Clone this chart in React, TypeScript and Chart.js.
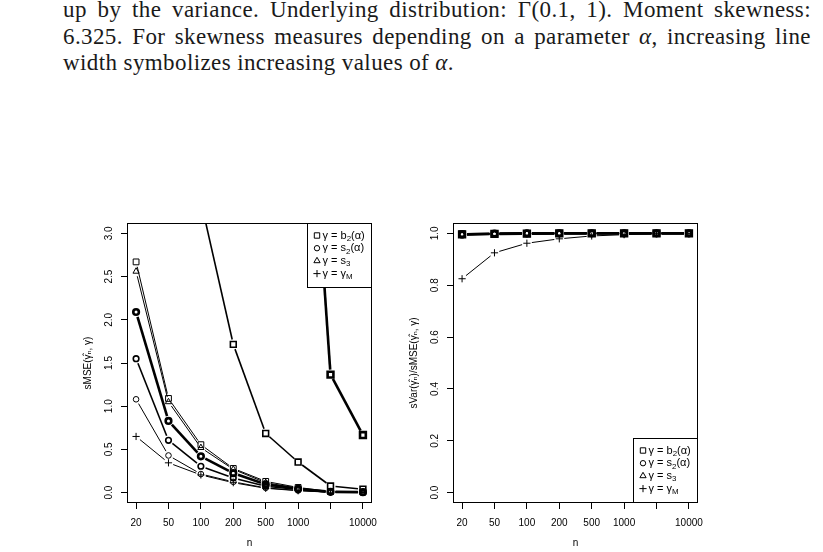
import React, { useEffect, useRef } from "react";
import { Chart, registerables } from "chart.js";

Chart.register(...registerables);

// ---------- data ----------
const nTickLabels = ["20", "50", "100", "200", "500", "1000", "", "10000"];
const nIndex = [1, 2, 3, 4, 5, 6, 7, 8];

const mseYTicks = [0, 0.5, 1, 1.5, 2, 2.5, 3];
const ratioYTicks = [0, 0.2, 0.4, 0.6, 0.8, 1];

// left panel: sMSE
const mseB2A1 = [2.67, 1.09, 0.555, 0.28, 0.13, 0.06, 0.012, 0.006];
const mseB2A2 = [12.5, 6.8, 3.37, 1.715, 0.685, 0.354, 0.077, 0.04];
const mseB2A3 = [45, 30, 20, 14, 9.5, 6.8, 1.366, 0.666];
const mseS2A1 = [1.08, 0.43, 0.215, 0.125, 0.055, 0.025, 0.005, 0.003];
const mseS2A2 = [1.55, 0.605, 0.305, 0.17, 0.075, 0.035, 0.007, 0.004];
const mseS2A3 = [2.09, 0.83, 0.42, 0.225, 0.095, 0.045, 0.009, 0.005];
const mseS3 = [2.56, 1.05, 0.52, 0.27, 0.115, 0.05, 0.01, 0.005];
const mseGM = [0.65, 0.345, 0.205, 0.115, 0.05, 0.022, 0.004, 0.002];

// right panel: sVar / sMSE
const ratioB2A1 = [0.998, 0.999, 1.0, 1.0, 1.0, 1.0, 1.0, 1.0];
const ratioB2A2 = [0.997, 0.999, 0.999, 1.0, 1.0, 1.0, 1.0, 1.0];
const ratioB2A3 = [0.996, 0.998, 0.999, 1.0, 1.0, 1.0, 1.0, 1.0];
const ratioS2A1 = [0.994, 0.998, 0.999, 1.0, 1.0, 1.0, 1.0, 1.0];
const ratioS2A2 = [0.995, 0.998, 0.999, 1.0, 1.0, 1.0, 1.0, 1.0];
const ratioS2A3 = [0.996, 0.999, 1.0, 1.0, 1.0, 1.0, 1.0, 1.0];
const ratioS3 = [0.997, 0.999, 1.0, 1.0, 1.0, 1.0, 1.0, 1.0];
const ratioGM = [0.825, 0.925, 0.962, 0.979, 0.99, 0.995, 0.999, 0.999];

const FONT = '"Liberation Sans", Arial, "DejaVu Sans", sans-serif';

type Part = { t: string; sub?: boolean };
const legendTexts: Part[][] = [
  [{ t: "\u03B3 = b" }, { t: "2", sub: true }, { t: "(\u03B1)" }],
  [{ t: "\u03B3 = s" }, { t: "2", sub: true }, { t: "(\u03B1)" }],
  [{ t: "\u03B3 = s" }, { t: "3", sub: true }],
  [{ t: "\u03B3 = \u03B3" }, { t: "M", sub: true }],
];
const legendSymbols = ["rect", "circle", "triangle", "cross"];

type Series = { values: number[]; style: string; width: number };

const THIN = 1;
const MED = 1.6;
const THICK = 2.6;
const GAP = 5; // R type = "b": line segments stop short of the symbols

function radiusFor(style: string) {
  if (style === "rect") return 4.1;
  if (style === "circle") return 2.8;
  if (style === "triangle") return 3.6;
  return 3.6;
}

function makeDatasets(series: Series[]) {
  return series.map((s) => ({
    data: s.values.map((v, i) => ({ x: nIndex[i], y: v })),
    borderColor: "#000",
    borderWidth: s.width,
    lineW: s.width,
    pointStyle: s.style,
    pointRadius: radiusFor(s.style),
    pointBorderWidth: s.width,
    pointBackgroundColor: "rgba(0,0,0,0)",
    pointBorderColor: "#000",
    tension: 0,
    fill: false,
    showLine: false,
  }));
}

const leftSeries: Series[] = [
  { values: mseGM, style: "cross", width: THIN },
  { values: mseS3, style: "triangle", width: THIN },
  { values: mseS2A1, style: "circle", width: THIN },
  { values: mseS2A2, style: "circle", width: MED },
  { values: mseS2A3, style: "circle", width: THICK },
  { values: mseB2A1, style: "rect", width: THIN },
  { values: mseB2A2, style: "rect", width: MED },
  { values: mseB2A3, style: "rect", width: THICK },
];

const rightSeries: Series[] = [
  { values: ratioGM, style: "cross", width: THIN },
  { values: ratioS3, style: "triangle", width: THIN },
  { values: ratioS2A1, style: "circle", width: THIN },
  { values: ratioS2A2, style: "circle", width: MED },
  { values: ratioS2A3, style: "circle", width: THICK },
  { values: ratioB2A1, style: "rect", width: THIN },
  { values: ratioB2A2, style: "rect", width: MED },
  { values: ratioB2A3, style: "rect", width: THICK },
];

// line segments between the points placed by Chart.js (positions from its scales)
const gapLinePlugin = {
  id: "rGapLines",
  beforeDatasetsDraw(chart: any) {
    const ctx: CanvasRenderingContext2D = chart.ctx;
    const a = chart.chartArea;
    ctx.save();
    ctx.beginPath();
    ctx.rect(a.left, a.top, a.right - a.left, a.bottom - a.top);
    ctx.clip();
    ctx.strokeStyle = "#000";
    ctx.lineCap = "butt";
    chart.data.datasets.forEach((ds: any, i: number) => {
      const pts = chart.getDatasetMeta(i).data;
      ctx.lineWidth = ds.lineW;
      for (let k = 0; k < pts.length - 1; k++) {
        const p = pts[k];
        const q = pts[k + 1];
        const dx = q.x - p.x;
        const dy = q.y - p.y;
        const L = Math.hypot(dx, dy);
        if (L <= 2 * GAP) continue;
        const ux = dx / L;
        const uy = dy / L;
        ctx.beginPath();
        ctx.moveTo(p.x + ux * GAP, p.y + uy * GAP);
        ctx.lineTo(q.x - ux * GAP, q.y - uy * GAP);
        ctx.stroke();
      }
    });
    ctx.restore();
  },
};

function drawSym(ctx: CanvasRenderingContext2D, s: string, x: number, y: number) {
  ctx.beginPath();
  if (s === "rect") {
    ctx.rect(x - 2.7, y - 2.7, 5.4, 5.4);
  } else if (s === "circle") {
    ctx.arc(x, y, 2.7, 0, Math.PI * 2);
  } else if (s === "triangle") {
    const r = 3.6;
    ctx.moveTo(x, y - r);
    ctx.lineTo(x + r * 0.866, y + r * 0.5);
    ctx.lineTo(x - r * 0.866, y + r * 0.5);
    ctx.closePath();
  } else {
    ctx.moveTo(x - 3.6, y);
    ctx.lineTo(x + 3.6, y);
    ctx.moveTo(x, y - 3.6);
    ctx.lineTo(x, y + 3.6);
  }
  ctx.stroke();
}

function framePlugin(corner: "top" | "bottom") {
  return {
    id: "rFrameLegend",
    afterDraw(chart: any) {
      const ctx: CanvasRenderingContext2D = chart.ctx;
      const a = chart.chartArea;
      ctx.save();
      ctx.strokeStyle = "#000";
      ctx.lineWidth = 1;
      ctx.strokeRect(a.left + 0.5, a.top + 0.5, a.right - a.left - 1, a.bottom - a.top - 1);
      const w = 65;
      const h = 65;
      const x0 = a.right - w;
      const y0 = corner === "top" ? a.top : a.bottom - h;
      ctx.fillStyle = "#fff";
      ctx.fillRect(x0, y0, w, h);
      ctx.strokeRect(x0 + 0.5, y0 + 0.5, w - 1, h - 1);
      const fs = 11;
      ctx.fillStyle = "#000";
      ctx.textBaseline = "middle";
      ctx.textAlign = "left";
      legendTexts.forEach((parts, i) => {
        const y = y0 + 12.5 + i * 12.7;
        ctx.lineWidth = 1;
        drawSym(ctx, legendSymbols[i], x0 + 10, y);
        let tx = x0 + 15.5;
        parts.forEach((p) => {
          const size = p.sub ? fs * 0.72 : fs;
          ctx.font = `${size}px ${FONT}`;
          ctx.fillText(p.t, tx, p.sub ? y + fs * 0.3 : y);
          tx += ctx.measureText(p.t).width;
        });
      });
      ctx.restore();
    },
  };
}

type PanelProps = {
  series: Series[];
  yMin: number;
  yMax: number;
  yTicks: number[];
  yTitle: string;
  corner: "top" | "bottom";
  left: number;
  yAxisW: number;
  padRight: number;
  yTitlePad: number;
};

const CW = 330;
const CH = 352;
const CTOP = 200;

function Panel(props: PanelProps) {
  const ref = useRef<HTMLCanvasElement | null>(null);
  useEffect(() => {
    if (!ref.current) return;
    Chart.defaults.font.family = FONT;
    Chart.defaults.color = "#000";
    const zeroPad = (s: any) => {
      s.paddingLeft = 0;
      s.paddingRight = 0;
      s.paddingTop = 0;
      s.paddingBottom = 0;
    };
    const axisGrid = {
      display: true,
      drawOnChartArea: false,
      drawTicks: true,
      tickLength: 6,
      color: "#000",
      lineWidth: 1,
    };
    const chart = new Chart(ref.current, {
      type: "line",
      data: { datasets: makeDatasets(props.series) as any },
      options: {
        animation: false,
        responsive: false,
        events: [],
        layout: { padding: { left: 0, top: 23, right: props.padRight, bottom: 0 } },
        plugins: {
          legend: { display: false },
          tooltip: { enabled: false },
        },
        scales: {
          x: {
            type: "linear",
            min: 0.72,
            max: 8.28,
            afterBuildTicks: (s: any) => {
              s.ticks = nIndex.map((v) => ({ value: v }));
            },
            afterFit: (s: any) => {
              s.height = CH - 303;
              zeroPad(s);
            },
            ticks: {
              autoSkip: false,
              maxRotation: 0,
              minRotation: 0,
              padding: 8,
              font: { size: 10, family: FONT },
              color: "#000",
              callback: (v: any) => {
                const k = nIndex.indexOf(Number(v));
                return k >= 0 ? nTickLabels[k] : "";
              },
            },
            grid: axisGrid,
            border: { display: false },
            title: {
              display: true,
              text: "n",
              color: "#000",
              font: { size: 10, family: FONT },
              padding: { top: 0, bottom: 3 },
            },
          },
          y: {
            type: "linear",
            min: props.yMin,
            max: props.yMax,
            afterBuildTicks: (s: any) => {
              s.ticks = props.yTicks.map((v) => ({ value: v }));
            },
            afterFit: (s: any) => {
              s.width = props.yAxisW;
              zeroPad(s);
            },
            ticks: {
              autoSkip: false,
              minRotation: 90,
              maxRotation: 90,
              crossAlign: "center",
              padding: 5,
              font: { size: 10, family: FONT },
              color: "#000",
              callback: (v: any) => Number(v).toFixed(1),
            },
            grid: axisGrid,
            border: { display: false },
            title: {
              display: true,
              text: props.yTitle,
              color: "#000",
              font: { size: 10, family: FONT },
              padding: { top: props.yTitlePad, bottom: 0 },
            },
          },
        },
      } as any,
      plugins: [gapLinePlugin as any, framePlugin(props.corner) as any],
    });
    return () => chart.destroy();
  }, []);
  return (
    <canvas
      ref={ref}
      width={CW}
      height={CH}
      style={{ position: "absolute", left: props.left, top: CTOP, width: CW, height: CH }}
    />
  );
}

const captionStyle: React.CSSProperties = {
  position: "absolute",
  left: 63,
  top: -3,
  width: 748,
  fontFamily: '"Liberation Serif", "DejaVu Serif", serif',
  fontSize: 23,
  letterSpacing: "0.4px",
  lineHeight: "26.5px",
  color: "#1a1a1a",
};

const justified: React.CSSProperties = { textAlign: "justify", textAlignLast: "justify" };

export default function App() {
  return (
    <div
      style={{
        position: "absolute",
        left: 0,
        top: 0,
        width: 823,
        height: 552,
        overflow: "hidden",
        background: "#fff",
      }}
    >
      <div style={captionStyle}>
        <div style={justified}>
          up by the variance. Underlying distribution: Γ(0.1, 1). Moment skewness:
        </div>
        <div style={justified}>
          6.325. For skewness measures depending on a parameter <i>α</i>, increasing line
        </div>
        <div>
          width symbolizes increasing values of <i>α</i>.
        </div>
      </div>
      <Panel
        series={leftSeries}
        yMin={-0.12}
        yMax={3.12}
        yTicks={mseYTicks}
        yTitle={"sMSE(\u03B3\u0302\u2099, \u03B3)"}
        corner="top"
        left={60}
        yAxisW={67}
        padRight={18}
        yTitlePad={22}
      />
      <Panel
        series={rightSeries}
        yMin={-0.04}
        yMax={1.04}
        yTicks={ratioYTicks}
        yTitle={"sVar(\u03B3\u0302\u2099)/sMSE(\u03B3\u0302\u2099, \u03B3)"}
        corner="bottom"
        left={390}
        yAxisW={63}
        padRight={22}
        yTitlePad={18}
      />
    </div>
  );
}
